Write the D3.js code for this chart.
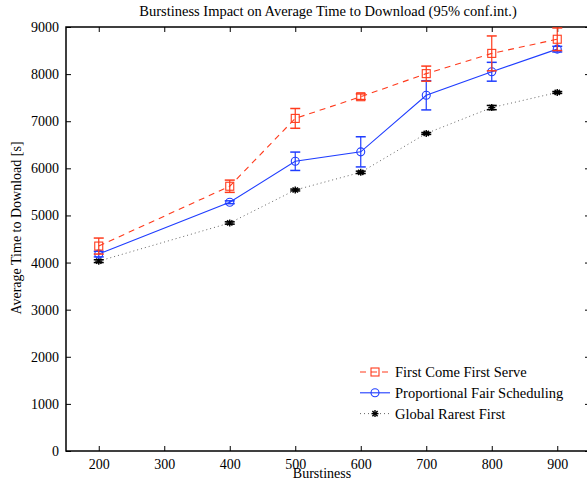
<!DOCTYPE html>
<html><head><meta charset="utf-8">
<script src="https://cdn.jsdelivr.net/npm/d3@7"></script>
<style>body{margin:0;background:#fff}svg{display:block}text{font-family:"Liberation Serif","Times New Roman",serif}</style>
</head><body><svg id="c" width="587" height="481"></svg>
<script>
const burstiness = [200, 400, 500, 600, 700, 800, 900];
const fcfsMean = [4350, 5620, 7060, 7520, 8010, 8440, 8740];
const fcfsErr  = [170, 130, 210, 60, 160, 370, 240];
const pfsMean  = [4180, 5280, 6150, 6350, 7550, 8050, 8530];
const pfsErr   = [60, 30, 195, 320, 310, 200, 60];
const grfMean  = [4030, 4840, 5540, 5915, 6740, 7290, 7610];
const grfErr   = [30, 25, 20, 25, 20, 45, 20];
const xTicks = [200, 300, 400, 500, 600, 700, 800, 900];
const yTicks = [0, 1000, 2000, 3000, 4000, 5000, 6000, 7000, 8000, 9000];
const seriesNames = ["First Come First Serve", "Proportional Fair Scheduling", "Global Rarest First"];

const FONT = "'Liberation Serif', 'Times New Roman', serif";
const svg = d3.select("#c");
const L = 66, R = 590, T = 27, B = 451;
const x = d3.scaleLinear().domain([150, 950]).range([L, R]);
const y = d3.scaleLinear().domain([0, 9000]).range([B, T]);

svg.append("rect").attr("x", L).attr("y", T).attr("width", R - L).attr("height", B - T)
  .attr("fill", "none").attr("stroke", "#000").attr("stroke-width", 1.5);

const tickLen = 5;
const gb = svg.append("g").attr("transform", `translate(0,${B})`)
  .call(d3.axisBottom(x).tickValues(xTicks).tickSize(-tickLen).tickPadding(8).tickFormat(d3.format("d")));
const gt = svg.append("g").attr("transform", `translate(0,${T})`)
  .call(d3.axisTop(x).tickValues(xTicks).tickSize(-tickLen).tickFormat(""));
const gl = svg.append("g").attr("transform", `translate(${L},0)`)
  .call(d3.axisLeft(y).tickValues(yTicks).tickSize(-tickLen).tickPadding(7).tickFormat(d3.format("d")));
const gr = svg.append("g").attr("transform", `translate(${R},0)`)
  .call(d3.axisRight(y).tickValues(yTicks).tickSize(-tickLen).tickFormat(""));
[gb, gt, gl, gr].forEach(g => {
  g.attr("font-family", FONT).attr("font-size", 14);
  g.select(".domain").remove();
  g.selectAll("line").attr("stroke", "#000").attr("stroke-width", 1);
  g.selectAll("text").attr("font-family", FONT).attr("font-size", 14).attr("fill", "#000");
});

svg.append("text").attr("x", 328).attr("y", 16).attr("text-anchor", "middle")
  .attr("font-family", FONT).attr("font-size", 14.5).text("Burstiness Impact on Average Time to Download (95% conf.int.)");
svg.append("text").attr("x", 322).attr("y", 478).attr("text-anchor", "middle")
  .attr("font-family", FONT).attr("font-size", 14).text("Burstiness");
svg.append("text").attr("transform", `translate(21,228) rotate(-90)`).attr("text-anchor", "middle")
  .attr("font-family", FONT).attr("font-size", 14).text("Average Time to Download [s]");

const series = [
  {name: seriesNames[0], mean: fcfsMean, err: fcfsErr, color: "#ff3a1c", dash: "6,5", width: 1.1, marker: "square", lineColor: "#ff3a1c"},
  {name: seriesNames[1], mean: pfsMean, err: pfsErr, color: "#1f3dff", dash: null, width: 1.1, marker: "circle", lineColor: "#1f3dff"},
  {name: seriesNames[2], mean: grfMean, err: grfErr, color: "#000", dash: "1,3", width: 1, marker: "star", lineColor: "#666"}
];

function drawMarker(g, type, cx, cy, color) {
  if (type === "square") {
    g.append("rect").attr("x", cx - 4).attr("y", cy - 4).attr("width", 8).attr("height", 8)
      .attr("fill", "none").attr("stroke", color).attr("stroke-width", 1.1);
  } else if (type === "circle") {
    g.append("circle").attr("cx", cx).attr("cy", cy).attr("r", 4)
      .attr("fill", "none").attr("stroke", color).attr("stroke-width", 1.1);
  } else {
    const s = 3.5;
    [[-s, 0, s, 0], [0, -s, 0, s], [-s * 0.75, -s * 0.75, s * 0.75, s * 0.75], [-s * 0.75, s * 0.75, s * 0.75, -s * 0.75]].forEach(p => {
      g.append("line").attr("x1", cx + p[0]).attr("y1", cy + p[1]).attr("x2", cx + p[2]).attr("y2", cy + p[3])
        .attr("stroke", color).attr("stroke-width", 1.4);
    });
  }
}

const line = d3.line().x(d => x(d[0])).y(d => y(d[1]));
series.slice().reverse().forEach(s => {
  const pts = burstiness.map((b, i) => [b, s.mean[i], s.err[i]]);
  const g = svg.append("g");
  g.append("path").attr("d", line(pts)).attr("fill", "none").attr("stroke", s.lineColor)
    .attr("stroke-width", s.width).attr("stroke-dasharray", s.dash);
  pts.forEach(p => {
    const cx = x(p[0]), y1 = y(p[1] + p[2]), y2 = y(p[1] - p[2]);
    g.append("line").attr("x1", cx).attr("x2", cx).attr("y1", y1).attr("y2", y2).attr("stroke", s.color).attr("stroke-width", 1.2);
    [y1, y2].forEach(yy => g.append("line").attr("x1", cx - 5).attr("x2", cx + 5).attr("y1", yy).attr("y2", yy)
      .attr("stroke", s.color).attr("stroke-width", 1.5));
    drawMarker(g, s.marker, cx, y(p[1]), s.color);
  });
});

const lg = svg.append("g");
series.forEach((s, i) => {
  const yy = 372 + i * 20.8;
  lg.append("line").attr("x1", 360).attr("x2", 390).attr("y1", yy).attr("y2", yy)
    .attr("stroke", s.lineColor).attr("stroke-width", s.width).attr("stroke-dasharray", s.dash);
  drawMarker(lg, s.marker, 375, yy, s.color);
  lg.append("text").attr("x", 395).attr("y", yy + 5).attr("font-family", FONT).attr("font-size", 14.5).text(s.name);
});
</script></body></html>
